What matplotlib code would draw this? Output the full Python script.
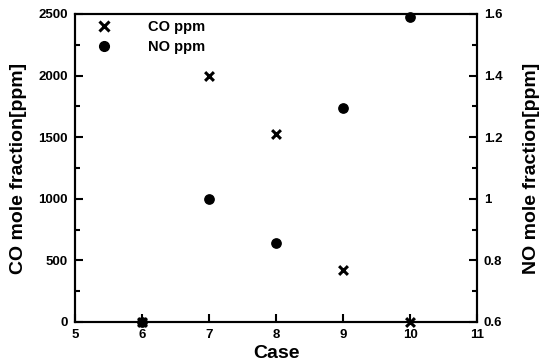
import matplotlib
matplotlib.use("Agg")
import matplotlib.pyplot as plt
from matplotlib.ticker import MultipleLocator
from matplotlib.lines import Line2D

plt.rcParams['font.family'] = ['Liberation Sans', 'DejaVu Sans']
plt.rcParams['font.weight'] = 'bold'

cases = [6, 7, 8, 9, 10]
co_ppm = [0, 2000, 1530, 425, 0]
no_ppm = [0.6, 1.0, 0.855, 1.295, 1.59]

fig = plt.figure(figsize=(5.39, 3.62), dpi=100)
ax = fig.add_axes([75 / 539, 40 / 362, 402 / 539, 308 / 362])
ax2 = ax.twinx()

ax.scatter(cases, co_ppm, marker='x', s=40, c='black', linewidths=2.2, zorder=5, clip_on=False)
ax2.scatter(cases, no_ppm, marker='o', s=45, c='black', zorder=5, clip_on=False)

ax.set_xlim(5, 11)
ax.set_ylim(0, 2500)
ax2.set_ylim(0.6, 1.6)
ax.xaxis.set_major_locator(MultipleLocator(1))
ax.yaxis.set_major_locator(MultipleLocator(500))
ax.yaxis.set_minor_locator(MultipleLocator(250))
ax2.yaxis.set_minor_locator(MultipleLocator(0.1))
ax2.set_yticks([0.6, 0.8, 1.0, 1.2, 1.4, 1.6])
ax2.set_yticklabels(['0.6', '0.8', '1', '1.2', '1.4', '1.6'])

for a in (ax, ax2):
    for s in a.spines.values():
        s.set_linewidth(1.5)
    a.tick_params(which='major', direction='in', length=6, width=1.5, labelsize=9.5)
    a.tick_params(which='minor', direction='in', length=3.5, width=1.5)
ax.tick_params(axis='x', pad=5)
ax.tick_params(axis='y', pad=5)
ax2.tick_params(axis='y', pad=5)

ax.set_xlabel('Case', fontsize=14, fontweight='bold', labelpad=3)
ax.set_ylabel('CO mole fraction[ppm]', fontsize=14, fontweight='bold', labelpad=8)
ax2.set_ylabel('NO mole fraction[ppm]', fontsize=14, fontweight='bold', labelpad=15)

handles = [Line2D([], [], marker='x', color='black', linestyle='none', markersize=7, markeredgewidth=2.2),
           Line2D([], [], marker='o', color='black', linestyle='none', markersize=7)]
ax.legend(handles, ['CO ppm', 'NO ppm'], loc='upper left', frameon=False, fontsize=10.5,
          handletextpad=2.3, borderaxespad=0.0, labelspacing=0.45, handlelength=1.5,
          bbox_to_anchor=(0.03, 1.0))

fig.savefig('out.png', dpi=100)
